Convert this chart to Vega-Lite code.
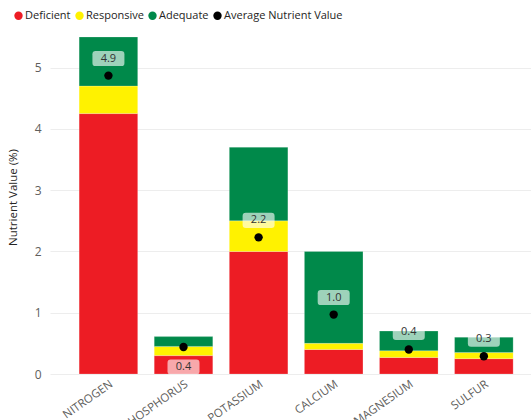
{
  "$schema": "https://vega.github.io/schema/vega-lite/v6.json",
  "width": 481,
  "height": 337,
  "autosize": {"type": "none"},
  "padding": {"left": 50, "top": 37, "right": 0, "bottom": 46},
  "background": "white",
  "config": {
    "font": "Open Sans",
    "view": {"stroke": null},
    "axis": {"domain": false, "ticks": false, "labelColor": "#605E5C", "titleColor": "#252423", "labelFontSize": 11, "titleFontWeight": "normal", "titleFontSize": 11, "gridColor": "#EDEDED"}
  },
  "datasets": {
    "segments": [
      {"nutrient": "NITROGEN", "category": "Deficient", "seq": 1, "value": 4.25},
      {"nutrient": "NITROGEN", "category": "Responsive", "seq": 2, "value": 0.45},
      {"nutrient": "NITROGEN", "category": "Adequate", "seq": 3, "value": 0.8},
      {"nutrient": "PHOSPHORUS", "category": "Deficient", "seq": 1, "value": 0.3},
      {"nutrient": "PHOSPHORUS", "category": "Responsive", "seq": 2, "value": 0.15},
      {"nutrient": "PHOSPHORUS", "category": "Adequate", "seq": 3, "value": 0.16},
      {"nutrient": "POTASSIUM", "category": "Deficient", "seq": 1, "value": 2.0},
      {"nutrient": "POTASSIUM", "category": "Responsive", "seq": 2, "value": 0.5},
      {"nutrient": "POTASSIUM", "category": "Adequate", "seq": 3, "value": 1.2},
      {"nutrient": "CALCIUM", "category": "Deficient", "seq": 1, "value": 0.4},
      {"nutrient": "CALCIUM", "category": "Responsive", "seq": 2, "value": 0.1},
      {"nutrient": "CALCIUM", "category": "Adequate", "seq": 3, "value": 1.5},
      {"nutrient": "MAGNESIUM", "category": "Deficient", "seq": 1, "value": 0.27},
      {"nutrient": "MAGNESIUM", "category": "Responsive", "seq": 2, "value": 0.11},
      {"nutrient": "MAGNESIUM", "category": "Adequate", "seq": 3, "value": 0.32},
      {"nutrient": "SULFUR", "category": "Deficient", "seq": 1, "value": 0.25},
      {"nutrient": "SULFUR", "category": "Responsive", "seq": 2, "value": 0.1},
      {"nutrient": "SULFUR", "category": "Adequate", "seq": 3, "value": 0.25}
    ],
    "averages": [
      {"nutrient": "NITROGEN", "avg": 4.87, "series": "Average Nutrient Value"},
      {"nutrient": "PHOSPHORUS", "avg": 0.44, "series": "Average Nutrient Value"},
      {"nutrient": "POTASSIUM", "avg": 2.23, "series": "Average Nutrient Value"},
      {"nutrient": "CALCIUM", "avg": 0.97, "series": "Average Nutrient Value"},
      {"nutrient": "MAGNESIUM", "avg": 0.4, "series": "Average Nutrient Value"},
      {"nutrient": "SULFUR", "avg": 0.29, "series": "Average Nutrient Value"}
    ]
  },
  "encoding": {
    "x": {
      "field": "nutrient",
      "type": "nominal",
      "sort": ["NITROGEN", "PHOSPHORUS", "POTASSIUM", "CALCIUM", "MAGNESIUM", "SULFUR"],
      "scale": {"paddingInner": 0.22, "paddingOuter": 0.313, "align": 0.62},
      "axis": {"title": null, "labelAngle": -35, "labelPadding": 4, "labelFontSize": 11.5}
    }
  },
  "layer": [
    {
      "data": {"name": "segments"},
      "mark": {"type": "bar", "stroke": "white", "strokeOpacity": 0.35, "strokeWidth": 0.6},
      "encoding": {
        "y": {
          "field": "value",
          "type": "quantitative",
          "stack": "zero",
          "scale": {"domain": [0, 5.5], "nice": false},
          "axis": {"title": "Nutrient Value (%)", "values": [0, 1, 2, 3, 4, 5], "format": "d", "labelFontSize": 12, "labelPadding": 9, "titlePadding": 16, "titleFontSize": 11.5, "titleY": 160}
        },
        "order": {"field": "seq", "type": "quantitative"},
        "color": {
          "field": "category",
          "type": "nominal",
          "scale": {
            "domain": ["Deficient", "Responsive", "Adequate", "Average Nutrient Value"],
            "range": ["#ED1C24", "#FFF200", "#00894A", "#000000"]
          },
          "legend": {
            "title": null,
            "orient": "none",
            "legendX": -37,
            "legendY": -27,
            "direction": "horizontal",
            "symbolType": "circle",
            "symbolSize": 70,
            "symbolStrokeWidth": 0,
            "labelFontSize": 11,
            "labelColor": "#252423",
            "labelOffset": 1,
            "columnPadding": 3
          }
        }
      }
    },
    {
      "data": {"name": "averages"},
      "transform": [{"filter": "datum.nutrient !== 'PHOSPHORUS'"}],
      "mark": {"type": "point", "filled": true, "opacity": 0.62, "color": "white", "size": 1024, "shape": "M-0.8,-0.47 L0.8,-0.47 Q1,-0.47 1,-0.27 L1,0.27 Q1,0.47 0.8,0.47 L-0.8,0.47 Q-1,0.47 -1,0.27 L-1,-0.27 Q-1,-0.47 -0.8,-0.47 Z"},
      "encoding": {
        "y": {"field": "avg", "type": "quantitative"},
        "yOffset": {"value": -17}
      }
    },
    {
      "data": {"name": "averages"},
      "transform": [{"filter": "datum.nutrient === 'PHOSPHORUS'"}],
      "mark": {"type": "point", "filled": true, "opacity": 0.62, "color": "white", "size": 1024, "shape": "M-0.8,-0.47 L0.8,-0.47 Q1,-0.47 1,-0.27 L1,0.27 Q1,0.47 0.8,0.47 L-0.8,0.47 Q-1,0.47 -1,0.27 L-1,-0.27 Q-1,-0.47 -0.8,-0.47 Z"},
      "encoding": {
        "y": {"field": "avg", "type": "quantitative"},
        "yOffset": {"value": 20}
      }
    },
    {
      "data": {"name": "averages"},
      "transform": [{"filter": "datum.nutrient !== 'PHOSPHORUS'"}],
      "mark": {"type": "text", "dy": -17, "fontSize": 11, "color": "#333333"},
      "encoding": {
        "y": {"field": "avg", "type": "quantitative"},
        "text": {"field": "avg", "type": "quantitative", "format": ".1f"}
      }
    },
    {
      "data": {"name": "averages"},
      "transform": [{"filter": "datum.nutrient === 'PHOSPHORUS'"}],
      "mark": {"type": "text", "dy": 20, "fontSize": 11, "color": "#333333"},
      "encoding": {
        "y": {"field": "avg", "type": "quantitative"},
        "text": {"field": "avg", "type": "quantitative", "format": ".1f"}
      }
    },
    {
      "data": {"name": "averages"},
      "mark": {"type": "point", "filled": true, "size": 70, "opacity": 1},
      "encoding": {
        "y": {"field": "avg", "type": "quantitative"},
        "color": {"field": "series", "type": "nominal"}
      }
    }
  ]
}
